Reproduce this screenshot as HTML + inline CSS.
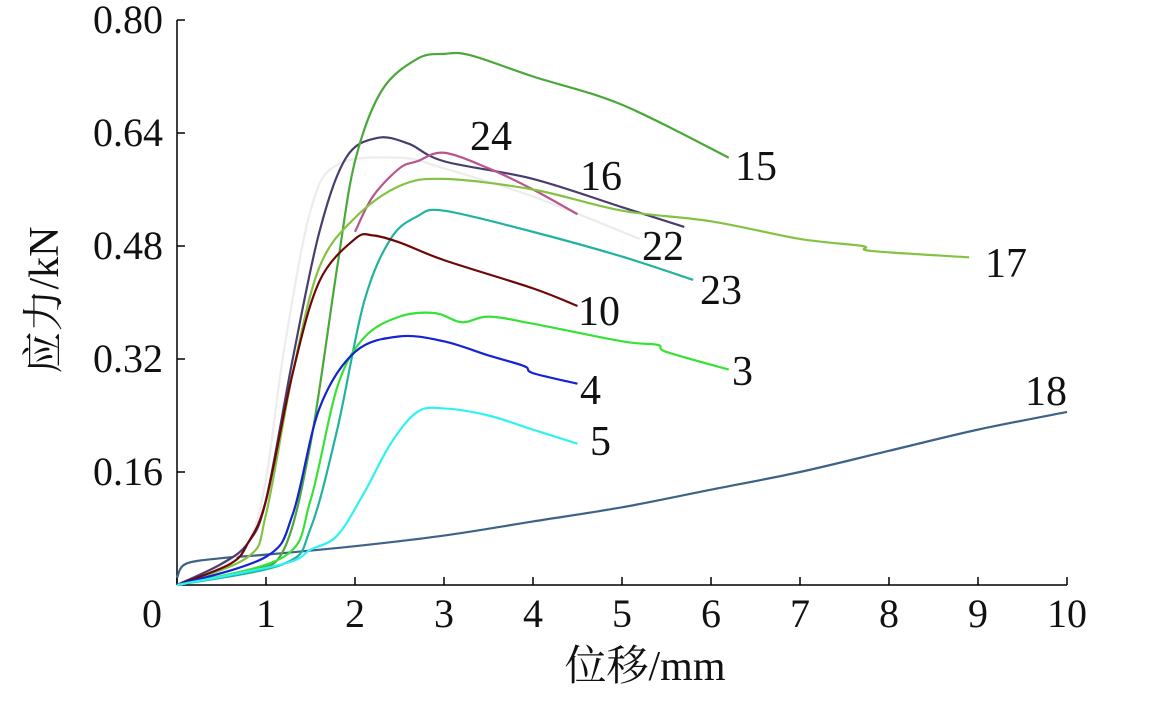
<!DOCTYPE html>
<html><head><meta charset="utf-8"><style>
body{margin:0;background:#fff;}
svg text{font-family:"Liberation Serif","Noto Serif CJK SC",serif;fill:#111;}
</style></head><body>
<svg id="c" width="1167" height="699">
<g id="axes"></g><g id="lines"></g><g id="labels"></g>
<text x="645" y="680" font-size="42" text-anchor="middle">位移/mm</text>
<text transform="translate(58,300) rotate(-90)" font-size="42" text-anchor="middle">应力/kN</text>
</svg>
<script>
const xTicks=[0,1,2,3,4,5,6,7,8,9,10];
const yTicks=[0.16,0.32,0.48,0.64,0.80];
const seriesNames=["18","22","16","15","24","17","23","10","3","4","5"];
const seriesColors=["#3f6288","#ececec","#4a3d6e","#4aa83a","#b8558f","#84c243","#22b2a0","#6e0808","#36e236","#1424d0","#2ef2f2"];
const s18=[[0,0.01],[0.1,0.03],[0.5,0.038],[1,0.043],[2,0.055],[3,0.07],[4,0.09],[5,0.11],[6,0.135],[7,0.16],[8,0.19],[9,0.22],[10,0.245]];
const s22=[[0,0],[0.4,0.02],[0.8,0.06],[1.0,0.15],[1.2,0.33],[1.5,0.53],[1.8,0.595],[2.5,0.605],[3,0.59],[4,0.55],[5.2,0.49]];
const s16=[[0,0],[0.5,0.03],[0.8,0.06],[1,0.12],[1.3,0.32],[1.6,0.5],[1.9,0.605],[2.25,0.633],[2.6,0.625],[3,0.6],[4,0.575],[5,0.535],[5.7,0.507]];
const s15=[[0,0],[0.8,0.02],[1.2,0.05],[1.5,0.2],[1.8,0.45],[2.0,0.6],[2.3,0.7],[2.7,0.745],[3.0,0.752],[3.3,0.75],[4,0.72],[5,0.68],[6.2,0.605]];
const s24=[[2.0,0.5],[2.2,0.55],[2.5,0.59],[2.7,0.6],[3,0.612],[3.5,0.59],[4,0.56],[4.5,0.525]];
const s17=[[0,0],[0.8,0.04],[1,0.1],[1.3,0.3],[1.6,0.45],[2,0.52],[2.5,0.565],[3,0.575],[4,0.56],[5,0.53],[6,0.515],[7,0.49],[7.7,0.48],[7.8,0.473],[8.9,0.464]];
const s23=[[0,0],[1.2,0.03],[1.5,0.08],[1.8,0.22],[2.1,0.4],[2.4,0.49],[2.7,0.522],[3,0.53],[4,0.5],[5,0.465],[5.8,0.432]];
const s10=[[0,0],[0.6,0.03],[0.8,0.06],[1,0.12],[1.3,0.3],[1.6,0.43],[2,0.49],[2.2,0.495],[2.5,0.485],[3,0.46],[4,0.42],[4.5,0.395]];
const s3=[[0,0],[1.2,0.04],[1.5,0.12],[1.8,0.28],[2.1,0.35],[2.5,0.38],[2.9,0.385],[3.2,0.372],[3.5,0.38],[4,0.37],[5,0.345],[5.4,0.34],[5.5,0.33],[6.2,0.305]];
const s4=[[0,0],[1,0.04],[1.3,0.1],[1.6,0.25],[2,0.33],[2.5,0.352],[3,0.345],[3.5,0.325],[3.9,0.31],[4,0.3],[4.5,0.285]];
const s5=[[0,0],[1.2,0.03],[1.5,0.05],[1.8,0.07],[2.1,0.13],[2.4,0.2],[2.7,0.245],[3,0.25],[3.5,0.24],[4,0.22],[4.5,0.2]];
const allSeries=[s18,s22,s16,s15,s24,s17,s23,s10,s3,s4,s5];
const labelPos=[[1025,405],[642,260],[580,190],[735,180],[470,150],[985,277],[700,304],[578,325],[732,385],[580,404],[590,455]];
const X=v=>177+v*89, Y=v=>585-v*706.25;
const NS="http://www.w3.org/2000/svg";
function mk(t,a,p){const e=document.createElementNS(NS,t);for(const k in a)e.setAttribute(k,a[k]);p.appendChild(e);return e;}
const ax=document.getElementById('axes');
let e=mk('line',{x1:177,y1:20,x2:177,y2:585,stroke:'#000','stroke-width':1.5},ax);


e=mk('line',{x1:177,y1:585,x2:1067,y2:585,stroke:'#000','stroke-width':1.5},ax);


xTicks.forEach(v=>{
 mk('line',{x1:X(v),y1:585,x2:X(v),y2:577,stroke:'#000','stroke-width':1.5},ax);
 const t=mk('text',{x:v===0?152:X(v),y:627,'font-size':40,'text-anchor':'middle'},ax);t.textContent=v;
 
 
});
yTicks.forEach(v=>{
 mk('line',{x1:177,y1:Y(v),x2:185,y2:Y(v),stroke:'#000','stroke-width':1.5},ax);
 const t=mk('text',{x:163,y:Y(v)+13,'font-size':40,'text-anchor':'end'},ax);t.textContent=v.toFixed(2);
 
 
});
function path(pts){const p=pts.map(q=>[X(q[0]),Y(q[1])]);let d='M'+p[0][0]+','+p[0][1];
 for(let i=0;i<p.length-1;i++){const a=p[Math.max(0,i-1)],b=p[i],c=p[i+1],n=p[Math.min(p.length-1,i+2)];
 d+=' C'+(b[0]+(c[0]-a[0])/6)+','+(b[1]+(c[1]-a[1])/6)+' '+(c[0]-(n[0]-b[0])/6)+','+(c[1]-(n[1]-b[1])/6)+' '+c[0]+','+c[1];}
 return d;}
const lg=document.getElementById('lines'),lb=document.getElementById('labels');
allSeries.forEach((s,i)=>{
 const l=mk('path',{d:path(s),fill:'none',stroke:seriesColors[i],'stroke-width':2.2},lg);
 
 
 const t=mk('text',{x:labelPos[i][0],y:labelPos[i][1],'font-size':42},lb);
 t.textContent=seriesNames[i];
 
 
});
</script>
</body></html>
